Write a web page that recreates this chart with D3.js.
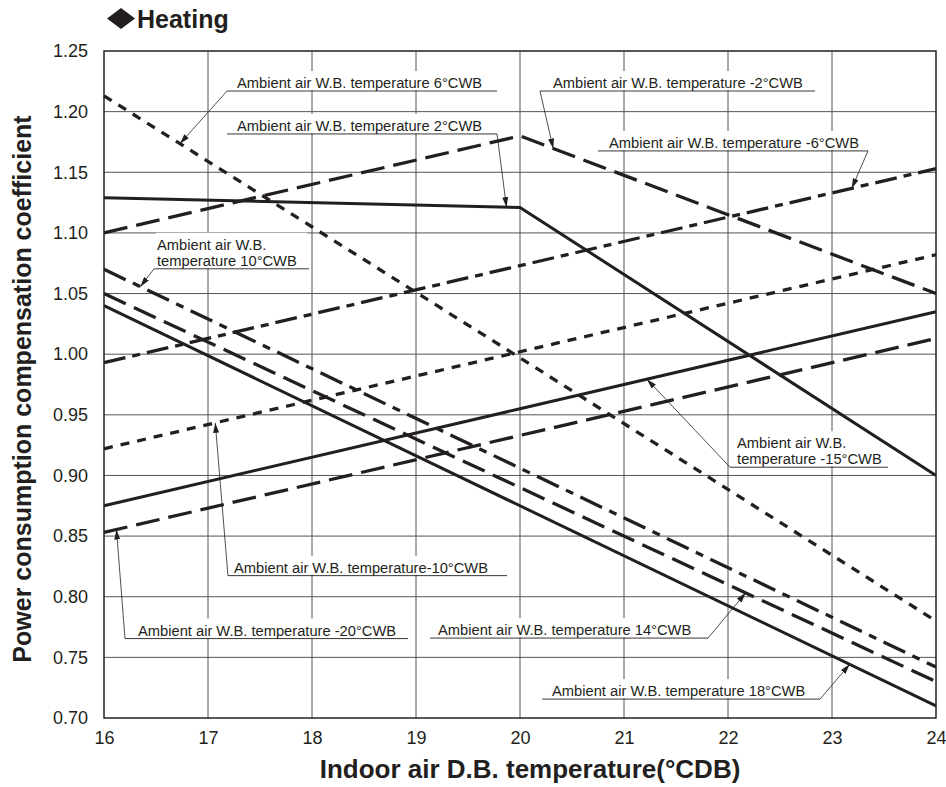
<!DOCTYPE html>
<html>
<head>
<meta charset="utf-8">
<script src="https://cdn.jsdelivr.net/npm/d3@7"></script>
<style>
  html, body { margin: 0; padding: 0; background: #fff; }
  svg { display: block; }
  text { font-family: "Liberation Sans", Arial, sans-serif; fill: #231f20; }
</style>
</head>
<body>
<div id="chart"></div>
<script>
// Indoor dry-bulb temperatures (°CDB) at which each curve is defined
const indoorDB = [16, 20, 24];

// Power consumption compensation coefficient for each ambient W.B. temperature
const coefWB6   = [1.213, 0.997, 0.780];
const coefWB2   = [1.129, 1.121, 0.900];
const coefWBm2  = [1.100, 1.180, 1.050];
const coefWBm6  = [0.993, 1.073, 1.153];
const coefWB10  = [1.070, 0.906, 0.742];
const coefWB14  = [1.050, 0.890, 0.730];
const coefWB18  = [1.040, 0.875, 0.710];
const coefWBm10 = [0.922, 1.002, 1.082];
const coefWBm15 = [0.875, 0.955, 1.035];
const coefWBm20 = [0.853, 0.933, 1.013];

// Axis ticks
const xTicks = [16, 17, 18, 19, 20, 21, 22, 23, 24];
const yTicks = [0.70, 0.75, 0.80, 0.85, 0.90, 0.95, 1.00, 1.05, 1.10, 1.15, 1.20, 1.25];
const yTickLabels = ["0.70", "0.75", "0.80", "0.85", "0.90", "0.95", "1.00", "1.05", "1.10", "1.15", "1.20", "1.25"];

// Curves: key, values, line style
const curves = [
  { key: "6",   values: coefWB6,   style: "short" },
  { key: "2",   values: coefWB2,   style: "solid" },
  { key: "-2",  values: coefWBm2,  style: "long" },
  { key: "-6",  values: coefWBm6,  style: "dashdot" },
  { key: "10",  values: coefWB10,  style: "dashdot2" },
  { key: "14",  values: coefWB14,  style: "long" },
  { key: "18",  values: coefWB18,  style: "solid" },
  { key: "-10", values: coefWBm10, style: "short" },
  { key: "-15", values: coefWBm15, style: "solid" },
  { key: "-20", values: coefWBm20, style: "long" }
];

const dashes = {
  solid: null,
  short: "9,8",
  long: "24,9",
  dashdot: "22,7,8,7",
  dashdot2: "24,8,8,8"
};

// Callouts: text lines, leader underline (data units), text start, arrow side and target
const callouts = [
  { key: "6",   lines: ["Ambient air W.B. temperature 6°CWB"],   x1: 17.183, x2: 19.779, y: 1.2170, tx: 17.279, from: "left",  at: 16.73 },
  { key: "2",   lines: ["Ambient air W.B. temperature 2°CWB"],   x1: 17.183, x2: 19.779, y: 1.1816, tx: 17.279, from: "right", at: 19.87 },
  { key: "-2",  lines: ["Ambient air W.B. temperature -2°CWB"],  x1: 20.192, x2: 22.837, y: 1.2170, tx: 20.317, from: "left",  at: 20.32 },
  { key: "-6",  lines: ["Ambient air W.B. temperature -6°CWB"],  x1: 20.750, x2: 23.346, y: 1.1676, tx: 20.856, from: "right", at: 23.19 },
  { key: "10",  lines: ["Ambient air W.B.", "temperature 10°CWB"], x1: 16.481, x2: 17.971, y: 1.0704, tx: 16.510, from: "left", at: 16.35 },
  { key: "-10", lines: ["Ambient air W.B. temperature-10°CWB"],  x1: 17.192, x2: 19.875, y: 0.8174, tx: 17.250, from: "left",  at: 17.07 },
  { key: "-20", lines: ["Ambient air W.B. temperature -20°CWB"], x1: 16.202, x2: 18.923, y: 0.7655, tx: 16.327, from: "left",  at: 16.12 },
  { key: "14",  lines: ["Ambient air W.B. temperature 14°CWB"],  x1: 19.135, x2: 21.808, y: 0.7659, tx: 19.212, from: "right", at: 22.17 },
  { key: "18",  lines: ["Ambient air W.B. temperature 18°CWB"],  x1: 20.212, x2: 22.885, y: 0.7156, tx: 20.308, from: "right", at: 23.17 },
  { key: "-15", lines: ["Ambient air W.B.", "temperature -15°CWB"], x1: 22.019, x2: 23.538, y: 0.9068, tx: 22.087, from: "left", at: 21.22 }
];

const W = 946, H = 787;
const plot = { left: 104, right: 936, top: 51, bottom: 718 };

const svg = d3.select("#chart").append("svg")
  .attr("width", W).attr("height", H);

const x = d3.scaleLinear().domain([16, 24]).range([plot.left, plot.right]);
const y = d3.scaleLinear().domain([0.70, 1.25]).range([plot.bottom, plot.top]);

// Arrowhead
svg.append("defs").append("marker")
  .attr("id", "arrow")
  .attr("markerUnits", "userSpaceOnUse")
  .attr("viewBox", "0 0 10 6")
  .attr("refX", 10).attr("refY", 3)
  .attr("markerWidth", 10).attr("markerHeight", 6)
  .attr("orient", "auto")
  .append("path").attr("d", "M0,0 L10,3 L0,6 Z").attr("fill", "#231f20");

// Title
const title = svg.append("g");
title.append("path")
  .attr("d", "M107,18.5 L121,8 L135,18.5 L121,29 Z")
  .attr("fill", "#231f20");
title.append("text")
  .attr("x", 137).attr("y", 28)
  .attr("font-size", 25).attr("font-weight", "bold")
  .text("Heating");

// Grid
const grid = svg.append("g").attr("stroke", "#555").attr("stroke-width", 1);
grid.selectAll("line.v").data(xTicks.slice(1, -1)).join("line")
  .attr("x1", d => x(d)).attr("x2", d => x(d))
  .attr("y1", plot.top).attr("y2", plot.bottom);
grid.selectAll("line.h").data(yTicks.slice(1, -1)).join("line")
  .attr("x1", plot.left).attr("x2", plot.right)
  .attr("y1", d => y(d)).attr("y2", d => y(d));

// Frame
svg.append("rect")
  .attr("x", plot.left).attr("y", plot.top)
  .attr("width", plot.right - plot.left).attr("height", plot.bottom - plot.top)
  .attr("fill", "none").attr("stroke", "#231f20").attr("stroke-width", 1.5);

// Axes (labels only; grid drawn above)
const xAxis = svg.append("g")
  .attr("transform", `translate(0,${plot.bottom})`)
  .call(d3.axisBottom(x).tickValues(xTicks).tickSize(0).tickPadding(13).tickFormat(d3.format("d")));
xAxis.select(".domain").remove();
xAxis.selectAll("text").attr("font-size", 18).attr("fill", "#231f20")
  .attr("font-family", "'Liberation Sans', Arial, sans-serif");

const yAxis = svg.append("g")
  .attr("transform", `translate(${plot.left},0)`)
  .call(d3.axisLeft(y).tickValues(yTicks).tickSize(0).tickPadding(16)
    .tickFormat((d, i) => yTickLabels[i]));
yAxis.select(".domain").remove();
yAxis.selectAll("text").attr("font-size", 18).attr("fill", "#231f20")
  .attr("font-family", "'Liberation Sans', Arial, sans-serif");

// Axis titles
svg.append("text")
  .attr("x", 530).attr("y", 778)
  .attr("text-anchor", "middle")
  .attr("font-size", 26).attr("font-weight", "bold")
  .text("Indoor air D.B. temperature(°CDB)");

svg.append("text")
  .attr("transform", "translate(31,389) rotate(-90)")
  .attr("text-anchor", "middle")
  .attr("font-size", 25).attr("font-weight", "bold")
  .text("Power consumption compensation coefficient");

// White backing behind callout text (interrupts the grid)
const lineH = 16;
const backs = svg.append("g");
callouts.forEach(c => {
  const top = y(c.y) - 4 - 11 - (c.lines.length - 1) * lineH - 5;
  backs.append("rect")
    .attr("x", x(c.x1) + 2).attr("y", top)
    .attr("width", x(c.x2) - x(c.x1) - 4)
    .attr("height", y(c.y) - 0.8 - top)
    .attr("fill", "#fff");
});

// Curves
const line = d3.line()
  .x((d, i) => x(indoorDB[i]))
  .y(d => y(d));

svg.append("g").selectAll("path").data(curves).join("path")
  .attr("d", d => line(d.values))
  .attr("fill", "none")
  .attr("stroke", "#231f20")
  .attr("stroke-width", d => d.style === "solid" ? 3 : 3.3)
  .attr("stroke-dasharray", d => dashes[d.style]);

// Value of a curve at a given indoor temperature
function valueAt(values, t) {
  return d3.scaleLinear().domain(indoorDB).range(values)(t);
}

// Callouts
const ann = svg.append("g");
callouts.forEach(c => {
  const curve = curves.find(k => k.key === c.key);
  const uy = y(c.y);
  ann.append("line")
    .attr("x1", x(c.x1)).attr("x2", x(c.x2))
    .attr("y1", uy).attr("y2", uy)
    .attr("stroke", "#231f20").attr("stroke-width", 0.9);
  const sx = c.from === "left" ? x(c.x1) : x(c.x2);
  ann.append("line")
    .attr("x1", sx).attr("y1", uy)
    .attr("x2", x(c.at)).attr("y2", y(valueAt(curve.values, c.at)))
    .attr("stroke", "#231f20").attr("stroke-width", 0.8)
    .attr("marker-end", "url(#arrow)");
  const n = c.lines.length;
  c.lines.forEach((t, i) => {
    ann.append("text")
      .attr("x", x(c.tx))
      .attr("y", uy - 3 - (n - 1 - i) * lineH)
      .attr("font-size", 14.7)
      .text(t);
  });
});
</script>
</body>
</html>
